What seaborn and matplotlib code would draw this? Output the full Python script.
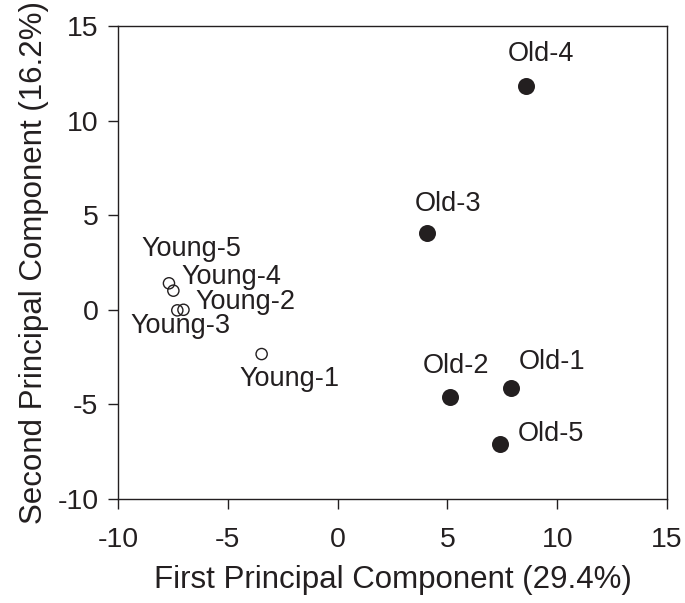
import matplotlib
matplotlib.use("Agg")
import matplotlib.pyplot as plt
import pandas as pd
import seaborn as sns

# ── data ────────────────────────────────────────────────────────
labels = ["Young-1", "Young-2", "Young-3", "Young-4", "Young-5",
          "Old-1", "Old-2", "Old-3", "Old-4", "Old-5"]
groups = ["Young"] * 5 + ["Old"] * 5
pc1 = [-3.46, -7.02, -7.30, -7.48, -7.68, 7.91, 5.13, 4.06, 8.57, 7.41]
pc2 = [-2.34, 0.0, -0.03, 1.01, 1.40, -4.13, -4.61, 4.04, 11.84, -7.09]

xticks = [-10, -5, 0, 5, 10, 15]
yticks = [-10, -5, 0, 5, 10, 15]

# label offsets in pixels (dx, dy) relative to each point
offsets = {
    "Young-1": (28, -25), "Young-2": (62, 8), "Young-3": (3, -16),
    "Young-4": (58, 14), "Young-5": (22, 34),
    "Old-1": (41, 26), "Old-2": (6, 31), "Old-3": (21, 29),
    "Old-4": (15, 32), "Old-5": (51, 10),
}

df = pd.DataFrame({"label": labels, "group": groups, "pc1": pc1, "pc2": pc2})

INK = "#231f20"
sns.set_style("ticks")
plt.rcParams["font.family"] = ["Liberation Sans", "DejaVu Sans"]
plt.rcParams["axes.unicode_minus"] = False

fig = plt.figure(figsize=(6.85, 6.03), dpi=100)
ax = fig.add_axes([0.1723, 0.1725, 0.8014, 0.7844])

young = df[df.group == "Young"]
old = df[df.group == "Old"]
sns.scatterplot(data=young, x="pc1", y="pc2", ax=ax, s=65, marker="o",
                facecolor="none", edgecolor=INK, linewidth=1.0, zorder=3)
sns.scatterplot(data=old, x="pc1", y="pc2", ax=ax, s=150, marker="o",
                color=INK, edgecolor=INK, linewidth=0, zorder=3)

for _, r in df.iterrows():
    dx, dy = offsets[r.label]
    ax.annotate(r.label, (r.pc1, r.pc2), xytext=(dx * 0.72, dy * 0.72),
                textcoords="offset points", ha="center", va="center",
                fontsize=19.5, color=INK)

ax.set_xlim(-10, 15)
ax.set_ylim(-10, 15)
ax.set_xticks(xticks)
ax.set_yticks(yticks)
ax.tick_params(direction="out", length=7, width=1.0, colors=INK,
               labelsize=20.5)
ax.tick_params(axis="x", pad=13)
ax.tick_params(axis="y", pad=7)
for sp in ax.spines.values():
    sp.set_visible(True)
    sp.set_color(INK)
    sp.set_linewidth(1.0)

ax.set_xlabel("First Principal Component (29.4%)", fontsize=22.5,
              color=INK, labelpad=9)
ax.set_ylabel("Second Principal Component (16.2%)", fontsize=22.5,
              color=INK, labelpad=6)

fig.savefig("out.png", dpi=100, facecolor="white")
